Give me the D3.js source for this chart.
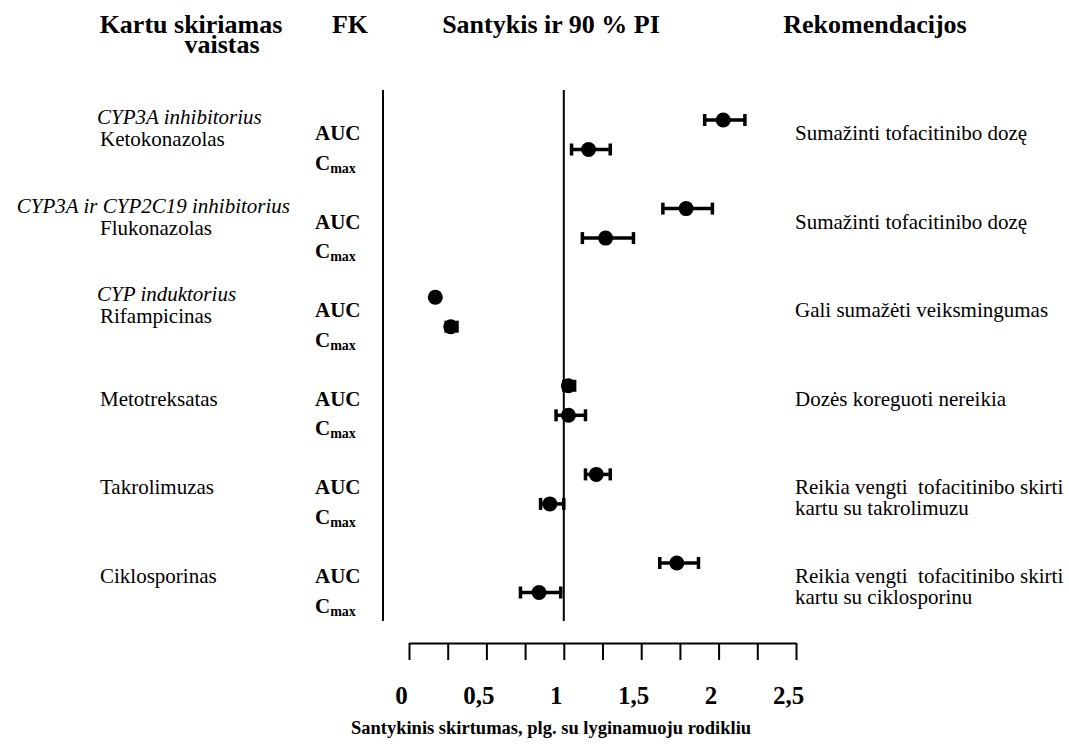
<!DOCTYPE html>
<html>
<head>
<meta charset="utf-8">
<script src="https://cdn.jsdelivr.net/npm/d3@7"></script>
<style>
  body { margin: 0; background: #fff; }
  svg text { font-family: "Liberation Serif", "Times New Roman", serif; fill: #000; white-space: pre; }
  .header { font-size: 26px; font-weight: bold; }
  .drug { font-size: 21px; }
  .drug-class { font-size: 21px; font-style: italic; }
  .param { font-size: 21px; font-weight: bold; }
  .rec { font-size: 21px; }
  .x-axis text { font-size: 25px; font-weight: bold; }
  .x-axis path, .x-axis line { stroke: #000; stroke-width: 2; }
  .x-axis-label { font-size: 18.5px; font-weight: bold; }
  .frame { stroke: #000; stroke-width: 2; }
  .ci { stroke: #000; stroke-width: 3.5; }
</style>
</head>
<body>
<div id="wrapper"></div>
<script>
// values
const drugs = ["Ketokonazolas", "Flukonazolas", "Rifampicinas", "Metotreksatas", "Takrolimuzas", "Ciklosporinas"];
const drugClasses = ["CYP3A inhibitorius", "CYP3A ir CYP2C19 inhibitorius", "CYP induktorius", "", "", ""];
const params = ["AUC", "Cmax"];

const aucRatio = [2.03, 1.79, 0.17, 1.03, 1.21, 1.73];
const aucLower = [1.91, 1.64, 0.15, 1.00, 1.14, 1.62];
const aucUpper = [2.17, 1.96, 0.19, 1.07, 1.30, 1.87];

const cmaxRatio = [1.16, 1.27, 0.27, 1.03, 0.91, 0.84];
const cmaxLower = [1.05, 1.12, 0.24, 0.95, 0.85, 0.72];
const cmaxUpper = [1.30, 1.45, 0.31, 1.14, 1.00, 0.98];

const recommendations = [
  ["Sumažinti tofacitinibo dozę"],
  ["Sumažinti tofacitinibo dozę"],
  ["Gali sumažėti veiksmingumas"],
  ["Dozės koreguoti nereikia"],
  ["Reikia vengti  tofacitinibo skirti", "kartu su takrolimuzu"],
  ["Reikia vengti  tofacitinibo skirti", "kartu su ciklosporinu"],
];

const tickValues = [0, 0.25, 0.5, 0.75, 1, 1.25, 1.5, 1.75, 2, 2.25, 2.5];
const tickLabels = ["0", "", "0,5", "", "1", "", "1,5", "", "2", "", "2,5"];

const headers = ["Kartu skiriamas", "vaistas", "FK", "Santykis ir 90 % PI", "Rekomendacijos"];
const axisTitle = "Santykinis skirtumas, plg. su lyginamuoju rodikliu";

function drawForest() {

  // 1. Data

  const rows = [];
  drugs.forEach((drug, i) => {
    rows.push({drug, param: "AUC", ratio: aucRatio[i], lo: aucLower[i], hi: aucUpper[i]});
    rows.push({drug, param: "Cmax", ratio: cmaxRatio[i], lo: cmaxLower[i], hi: cmaxUpper[i]});
  });

  // 2. Dimensions

  const dimensions = {
    width: 1069,
    height: 744,
    plotLeft: 409,
    plotRight: 796,
    plotTop: 90,
    plotBottom: 621,
    axisY: 643,
  };

  // 3. Canvas

  const wrapper = d3.select("#wrapper")
    .append("svg")
      .attr("width", dimensions.width)
      .attr("height", dimensions.height);

  // 4. Scales

  const xScale = d3.scaleLinear()
    .domain([0, 2.5])
    .range([dimensions.plotLeft, dimensions.plotRight]);

  const groupScale = d3.scalePoint()
    .domain(drugs)
    .range([120, 563]);

  const paramScale = d3.scalePoint()
    .domain(params)
    .range([0, 29.5]);

  const yAccessor = d => groupScale(d.drug) + paramScale(d.param);

  // 5. Frame lines

  wrapper.append("line")
      .attr("class", "frame")
      .attr("x1", dimensions.plotLeft - 26)
      .attr("x2", dimensions.plotLeft - 26)
      .attr("y1", dimensions.plotTop)
      .attr("y2", dimensions.plotBottom);

  wrapper.append("line")
      .attr("class", "frame")
      .attr("x1", xScale(1))
      .attr("x2", xScale(1))
      .attr("y1", dimensions.plotTop)
      .attr("y2", dimensions.plotBottom);

  // 6. Draw data

  const capHalf = 6;
  const marks = wrapper.append("g").selectAll("g")
    .data(rows)
    .join("g");

  marks.append("line")
      .attr("class", "ci")
      .attr("x1", d => xScale(d.lo))
      .attr("x2", d => xScale(d.hi))
      .attr("y1", yAccessor)
      .attr("y2", yAccessor);

  marks.append("line")
      .attr("class", "ci")
      .attr("x1", d => xScale(d.lo))
      .attr("x2", d => xScale(d.lo))
      .attr("y1", d => yAccessor(d) - capHalf)
      .attr("y2", d => yAccessor(d) + capHalf);

  marks.append("line")
      .attr("class", "ci")
      .attr("x1", d => xScale(d.hi))
      .attr("x2", d => xScale(d.hi))
      .attr("y1", d => yAccessor(d) - capHalf)
      .attr("y2", d => yAccessor(d) + capHalf);

  marks.append("circle")
      .attr("cx", d => xScale(d.ratio))
      .attr("cy", yAccessor)
      .attr("r", 7.5)
      .attr("fill", "#000");

  // 7. Row labels

  const labelDrop = 20;

  const paramLabels = wrapper.append("g").selectAll("text")
    .data(rows)
    .join("text")
      .attr("class", "param")
      .attr("x", 315)
      .attr("y", d => yAccessor(d) + labelDrop);

  paramLabels.filter(d => d.param === "AUC").text("AUC");
  const cmax = paramLabels.filter(d => d.param === "Cmax");
  cmax.append("tspan").text("C");
  cmax.append("tspan")
      .attr("font-size", 14)
      .attr("dy", 3)
      .text("max");

  const groups = wrapper.append("g").selectAll("g")
    .data(drugs)
    .join("g");

  groups.append("text")
      .attr("class", "drug")
      .attr("x", 100)
      .attr("y", (d, i) => groupScale(d) + labelDrop + (drugClasses[i] ? 6 : 0))
      .text(d => d);

  groups.filter((d, i) => drugClasses[i])
    .append("text")
      .attr("class", "drug-class")
      .attr("y", d => groupScale(d) + labelDrop + 6 - 22)
      .text(d => drugClasses[drugs.indexOf(d)])
      .attr("x", function() {
        const w = this.getComputedTextLength();
        return Math.min(97, 290 - w);
      });

  groups.append("text")
      .attr("class", "rec")
      .attr("x", 795)
      .attr("y", d => groupScale(d) + labelDrop)
    .selectAll("tspan")
    .data((d, i) => recommendations[i])
    .join("tspan")
      .attr("x", 795)
      .attr("dy", (d, i) => i === 0 ? 0 : 21)
      .text(d => d);

  // 8. Headers

  const headerPos = [[191, 33], [222, 53], [350, 33], [551, 33], [875, 33]];
  wrapper.append("g").selectAll("text")
    .data(headers)
    .join("text")
      .attr("class", "header")
      .attr("text-anchor", "middle")
      .attr("x", (d, i) => headerPos[i][0])
      .attr("y", (d, i) => headerPos[i][1])
      .text(d => d);

  // 9. Axis

  const xAxisGenerator = d3.axisBottom(xScale)
    .tickValues(tickValues)
    .tickFormat((d, i) => tickLabels[i])
    .tickSize(17)
    .tickSizeOuter(0);

  const xAxis = wrapper.append("g")
      .attr("class", "x-axis")
      .attr("transform", `translate(0, ${dimensions.axisY})`)
    .call(xAxisGenerator);

  xAxis.selectAll("text")
      .attr("y", 61)
      .attr("dy", 0)
      .attr("dx", -8);

  wrapper.append("text")
      .attr("class", "x-axis-label")
      .attr("text-anchor", "middle")
      .attr("x", 551)
      .attr("y", 734)
      .text(axisTitle);
}
drawForest();
</script>
</body>
</html>
